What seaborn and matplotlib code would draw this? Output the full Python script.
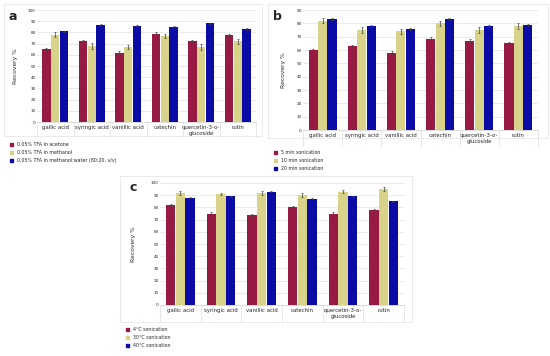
import numpy as np
import pandas as pd
import matplotlib
matplotlib.use("Agg")
import matplotlib.pyplot as plt
import seaborn as sns
from matplotlib.patches import Rectangle

compounds = ["gallic acid", "syringic acid", "vanillic acid", "catechin",
             "quercetin-3-o-\nglucoside", "rutin"]

# panel a: extraction solvent
a_labels = ["0.05% TFA in acetone", "0.05% TFA in methanol",
            "0.05% TFA in methanol:water (80:20, v/v)"]
a_acetone = [65, 72, 62, 79, 72, 78]
a_methanol = [78, 68, 67, 77, 67, 72]
a_meoh_water = [81, 87, 86, 85, 88, 83]
a_err = [[1.5, 1.2, 1.5, 1.0, 1.2, 1.0],
         [2.0, 2.5, 2.0, 2.0, 2.5, 2.0],
         [0.6, 0.5, 0.6, 0.6, 0.5, 0.6]]

# panel b: sonication time
b_labels = ["5 min sonication", "10 min sonication", "20 min sonication"]
b_5min = [60, 63, 58, 68, 67, 65]
b_10min = [82, 75, 74, 80, 75, 78]
b_20min = [83, 78, 76, 83, 78, 79]
b_err = [[1.0, 1.0, 1.2, 1.5, 1.0, 1.2],
         [2.0, 2.0, 2.0, 2.0, 2.0, 2.0],
         [0.8, 0.8, 0.8, 0.8, 0.8, 0.8]]

# panel c: sonication temperature
c_labels = ["4\u00b0C sonication", "30\u00b0C sonication", "40\u00b0C sonication"]
c_4c = [82, 75, 74, 80, 75, 78]
c_30c = [92, 91, 92, 90, 93, 95]
c_40c = [88, 89, 93, 87, 89, 85]
c_err = [[0.8, 1.0, 1.0, 1.0, 1.0, 0.8],
         [1.5, 1.0, 1.5, 1.5, 1.5, 1.5],
         [0.5, 0.5, 0.5, 0.5, 0.5, 0.5]]

colors = ["#961a42", "#d8d28a", "#0b0ba6"]

sns.set_theme(style="whitegrid")
plt.rcParams['font.family'] = ['DejaVu Sans']

fig = plt.figure(figsize=(5.5, 3.56), dpi=100)
W, H = 550, 356


def px_axes(x0, y0, x1, y1):
    # pixel box (top-left origin) -> figure fraction axes
    return fig.add_axes([x0 / W, 1 - y1 / H, (x1 - x0) / W, (y1 - y0) / H])


def panel(ax, series, labels, errs, ymax, letter, letter_xy, leg_xy, ylab_x):
    df = pd.DataFrame({
        "compound": np.tile(compounds, 3),
        "value": np.concatenate(series),
        "group": np.repeat(labels, len(compounds)),
    })
    sns.barplot(data=df, x="compound", y="value", hue="group", palette=colors,
                width=0.72, gap=0.03, ax=ax, legend=False, edgecolor="none",
                saturation=1)
    # error bars on top of each bar
    for cont, err in zip(ax.containers, errs):
        xs = [p.get_x() + p.get_width() / 2 for p in cont.patches]
        ys = [p.get_height() for p in cont.patches]
        ax.errorbar(xs, ys, yerr=err, fmt="none", ecolor="#444444",
                    elinewidth=0.5, capsize=1, capthick=0.5)
    ax.set_ylim(0, ymax)
    ax.set_yticks(np.arange(0, ymax + 1, 10))
    ax.tick_params(axis="y", labelsize=3, pad=1, length=0)
    ax.tick_params(axis="x", labelsize=3.9, pad=2.5, length=0)
    ax.set_xlabel("")
    ax.set_ylabel("")
    ax.grid(axis="y", color="#e2e2e2", linewidth=0.5)
    ax.grid(axis="x", visible=False)
    for s in ["top", "right", "left"]:
        ax.spines[s].set_visible(False)
    ax.spines["bottom"].set_color("#cccccc")
    ax.spines["bottom"].set_linewidth(0.5)
    ax.set_xlim(-0.5, len(compounds) - 0.5)
    # category separators below the axis
    for i in range(len(compounds) + 1):
        ax.plot([i - 0.5, i - 0.5], [0, -ymax * 0.13], color="#dddddd",
                lw=0.5, clip_on=False)
    pos = ax.get_position()
    fig.text(ylab_x / W, pos.y0 + pos.height / 2, "Recovery %", fontsize=4.3,
             rotation=90, ha="center", va="center")
    fig.text(letter_xy[0] / W, 1 - letter_xy[1] / H, letter, fontsize=9,
             fontweight="bold", ha="center", va="center")
    handles = [Rectangle((0, 0), 1, 1, color=c) for c in colors]
    ax.legend(handles, labels, loc="upper left",
              bbox_to_anchor=(leg_xy[0] / W, 1 - leg_xy[1] / H),
              bbox_transform=fig.transFigure, frameon=False, fontsize=3.4,
              handlelength=0.6, handleheight=0.6, handletextpad=0.9,
              labelspacing=0.6, borderpad=0)


# light panel frames
for x0, y0, x1, y1 in [(4, 4, 262, 136), (268, 4, 548, 138), (120, 176, 412, 322)]:
    fig.patches.append(Rectangle((x0 / W, 1 - y1 / H), (x1 - x0) / W, (y1 - y0) / H,
                                 transform=fig.transFigure, fill=False,
                                 edgecolor="#e6e6e6", linewidth=0.6))

ax_a = px_axes(37, 10, 256, 122)
panel(ax_a, [a_acetone, a_methanol, a_meoh_water], a_labels, a_err, 100, "a",
      (13, 17), (8, 140), 15)
ax_b = px_axes(303, 10, 538, 130)
panel(ax_b, [b_5min, b_10min, b_20min], b_labels, b_err, 90, "b",
      (277, 16), (272, 148), 283)
ax_c = px_axes(160, 183, 404, 305)
panel(ax_c, [c_4c, c_30c, c_40c], c_labels, c_err, 100, "c",
      (133, 188), (124, 325), 134)

fig.savefig("out.png", dpi=100)
